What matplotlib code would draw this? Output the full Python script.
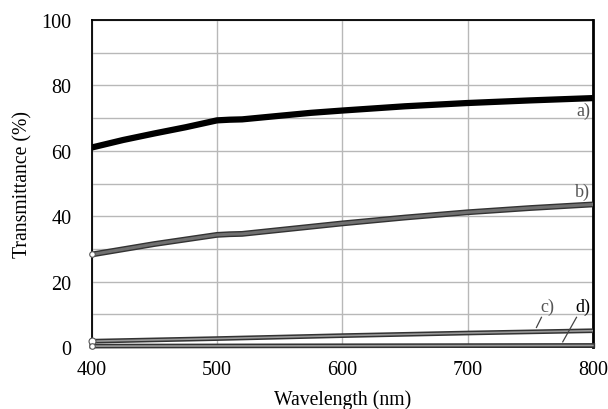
import matplotlib
matplotlib.use("Agg")
import matplotlib.pyplot as plt
import matplotlib.patheffects as pe

wl_a = [400, 425, 450, 475, 500, 510, 520, 550, 575, 600, 650, 700, 750, 800]
trans_a = [61.0, 63.3, 65.3, 67.2, 69.3, 69.5, 69.6, 70.7, 71.6, 72.3, 73.6, 74.6, 75.4, 76.1]
wl_b = [400, 450, 500, 510, 520, 550, 600, 650, 700, 750, 800]
trans_b = [28.3, 31.5, 34.3, 34.5, 34.6, 35.8, 37.8, 39.6, 41.2, 42.5, 43.6]
wl_c = [400, 500, 600, 700, 800]
trans_c = [1.8, 2.6, 3.5, 4.3, 5.0]
wl_d = [400, 600, 800]
trans_d = [0.3, 0.4, 0.5]

plt.rcParams['font.family'] = ['Liberation Serif', 'DejaVu Serif']

fig = plt.figure(figsize=(6.08, 4.10), dpi=100)
ax = fig.add_axes([0.151, 0.151, 0.824, 0.798])

ax.set_xlim(400, 800)
ax.set_ylim(0, 100)
ax.set_xticks([400, 500, 600, 700, 800])
ax.set_yticks([0, 20, 40, 60, 80, 100])
ax.set_yticks(range(0, 101, 10), minor=True)
ax.grid(True, which='both', color='#b8b8b8', linewidth=1.0)
ax.tick_params(which='both', length=0)
ax.tick_params(axis='x', labelsize=14.5, pad=9.5)
ax.tick_params(axis='y', labelsize=14.5, pad=14.5)
ax.set_axisbelow(True)
for s in ax.spines.values():
    s.set_color('black')
    s.set_linewidth(1.3)
ax.spines['right'].set_linewidth(2.0)

ax.plot(wl_a, trans_a, color='black', linewidth=4.5, solid_capstyle='butt', zorder=3)
ax.plot(wl_b, trans_b, color='#707070', linewidth=2.2, zorder=3,
        path_effects=[pe.Stroke(linewidth=4.2, foreground='#333333'), pe.Normal()])
ax.plot(wl_c, trans_c, color='#999999', linewidth=1.2, zorder=3,
        path_effects=[pe.Stroke(linewidth=3.4, foreground='#333333'), pe.Normal()])
ax.plot(wl_d, trans_d, color='#999999', linewidth=1.2, zorder=3, clip_on=False,
        path_effects=[pe.Stroke(linewidth=3.4, foreground='#333333'), pe.Normal()])

ax.plot([wl_b[0]], [trans_b[0]], 'o', ms=4, mfc='white', mec='#555555', mew=0.8, zorder=4, clip_on=False)
ax.plot([wl_c[0]], [trans_c[0]], 'o', ms=5, mfc='white', mec='#555555', mew=0.8, zorder=4, clip_on=False)
ax.plot([wl_d[0]], [trans_d[0]], 'o', ms=4, mfc='white', mec='#555555', mew=0.8, zorder=4, clip_on=False)

ax.text(798, 72.5, 'a)', ha='right', va='center', fontsize=13, color='#555555')
ax.text(798, 47.5, 'b)', ha='right', va='center', fontsize=13, color='#555555')
ax.text(764, 12.5, 'c)', ha='center', va='center', fontsize=13, color='#555555')
ax.text(792, 12.5, 'd)', ha='center', va='center', fontsize=13, color='black')
ax.plot([759, 755], [9.1, 6.0], color='#444444', linewidth=0.9, zorder=4)
ax.plot([787, 776], [9.1, 1.6], color='#444444', linewidth=0.9, zorder=4)

ax.set_xlabel('Wavelength (nm)', fontsize=14.2, labelpad=7)
ax.set_ylabel('Transmittance (%)', fontsize=14.2, labelpad=6.5)

fig.savefig('out.png', dpi=100)
